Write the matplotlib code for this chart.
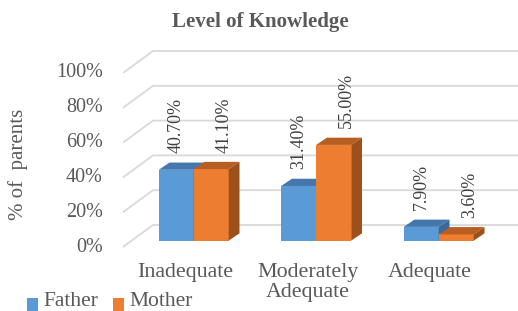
import matplotlib.pyplot as plt
from matplotlib.patches import Polygon, Rectangle

# === DATA ===
categories = ['Inadequate', 'Moderately\nAdequate', 'Adequate']
father = [40.7, 31.4, 7.9]
mother = [41.1, 55.0, 3.6]
series_names = ['Father', 'Mother']
y_ticks = [0, 20, 40, 60, 80, 100]
tick_labels = ['0%', '20%', '40%', '60%', '80%', '100%']

# === STYLE ===
FONT = 'Liberation Serif'
TEXT = '#595959'
GRID = '#D9D9D9'
FRONT = ['#5B9BD5', '#ED7D31']
TOP = ['#4477AD', '#B75E22']
SIDE = ['#3A6898', '#9E501C']

W, H = 518, 311
fig = plt.figure(figsize=(W / 100, H / 100), dpi=100)
ax = fig.add_axes([0, 0, 1, 1])
ax.axis('off')

# one category step = 122.5 px, 100% = 174 px, origin of front plane at px (185, 247)
sx = 1 / 122.5
sy = 100 / 174
ax.set_xlim(-185 * sx, (W - 185) * sx)
ax.set_ylim(-(H - 247) * sy, 247 * sy)

# depth of the "box" (side wall) and of the bars
DX, DY = 30 * sx, 22 * sy
wall_x = -62 * sx
right = (W - 185) * sx

# === WALL / GRID LINES ===
for t, lab in zip(y_ticks, tick_labels):
    ax.plot([wall_x, wall_x + DX, right], [t, t + DY, t + DY],
            color=GRID, lw=1.3, solid_capstyle='butt', zorder=1)
    ax.text(wall_x - 20 * sx, t, lab, ha='right', va='center',
            fontsize=14.5, color=TEXT, family=FONT)

# === 3D BARS ===
f0 = 0.29        # bars sit a bit behind the front plane
bdx, bdy = 0.36 * DX, 0.33 * DY
bw = 35 * sx
ox, oy = f0 * DX, f0 * DY

for j, vals in enumerate([father, mother]):
    for i, v in enumerate(vals):
        xl = i + ox - bw + j * bw
        yb, yt = oy, oy + v
        ax.add_patch(Rectangle((xl, yb), bw, v, facecolor=FRONT[j],
                               edgecolor='none', zorder=3 + j))
        ax.add_patch(Polygon([(xl, yt), (xl + bdx, yt + bdy),
                              (xl + bw + bdx, yt + bdy), (xl + bw, yt)],
                             closed=True, facecolor=TOP[j], edgecolor='none',
                             zorder=3 + j))
        ax.add_patch(Polygon([(xl + bw, yb), (xl + bw + bdx, yb + bdy),
                              (xl + bw + bdx, yt + bdy), (xl + bw, yt)],
                             closed=True, facecolor=SIDE[j], edgecolor='none',
                             zorder=3 + j))
        lx = xl + bw / 2 + (13 * sx if j == 1 else 0)
        ax.text(lx, yt + 16.5 * sy, f'{v:.2f}%', rotation=90, ha='center',
                va='bottom', fontsize=13, color='#404040', family=FONT,
                zorder=6)

# === CATEGORY LABELS ===
for i, c in enumerate(categories):
    ax.text(i, -16 * sy, c, ha='center', va='top', fontsize=15.8,
            color=TEXT, family=FONT, linespacing=1.05)

# === TITLE / AXIS TITLE ===
fig.text(260 / W, 1 - 22 / H, 'Level of Knowledge', ha='center', va='center',
         fontsize=15, fontweight='bold', color=TEXT, family=FONT)
fig.text(18 / W, 1 - 164 / H, '% of  parents', rotation=90, ha='center',
         va='center', fontsize=15, color=TEXT, family=FONT)

# === LEGEND ===
leg_x = [27, 113]
for j, name in enumerate(series_names):
    fig.patches.append(Rectangle((leg_x[j] / W, 0), 11 / W, 13 / H,
                                 transform=fig.transFigure,
                                 facecolor=FRONT[j], edgecolor='none'))
    fig.text((leg_x[j] + 16) / W, 5 / H, name, ha='left', va='baseline',
             fontsize=15.5, color=TEXT, family=FONT)

fig.savefig('out.png', dpi=100, facecolor='white')
